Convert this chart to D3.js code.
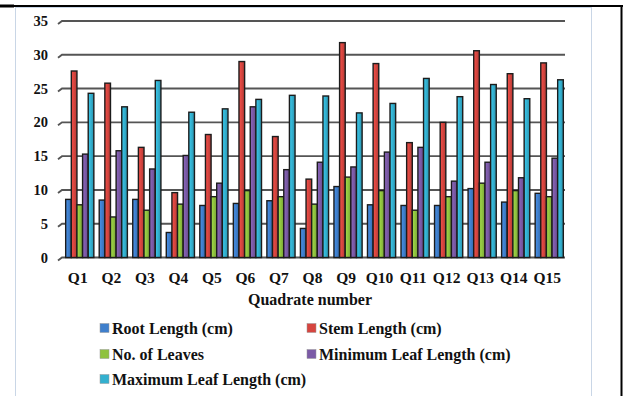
<!DOCTYPE html>
<html>
<head>
<meta charset="utf-8">
<script src="https://cdn.jsdelivr.net/npm/d3@7"></script>
<style>
  body { margin: 0; background: #fff; }
  text { font-family: "Liberation Serif", "Times New Roman", serif; font-weight: bold; fill: #111; }
</style>
</head>
<body>
<div id="chart"></div>
<script>
// values
const quadrates = ["Q1","Q2","Q3","Q4","Q5","Q6","Q7","Q8","Q9","Q10","Q11","Q12","Q13","Q14","Q15"];
const rootLength = [8.6, 8.5, 8.6, 3.7, 7.7, 8.0, 8.4, 4.3, 10.5, 7.8, 7.7, 7.7, 10.2, 8.2, 9.5];
const stemLength = [27.6, 25.8, 16.3, 9.6, 18.2, 29.0, 17.9, 11.6, 31.8, 28.7, 17.0, 20.0, 30.6, 27.2, 28.8];
const noOfLeaves = [7.8, 6.0, 7.0, 7.9, 9.0, 9.9, 9.0, 7.9, 11.9, 9.9, 7.0, 9.0, 11.0, 9.9, 9.0];
const minLeafLength = [15.3, 15.8, 13.1, 15.1, 11.0, 22.3, 13.0, 14.1, 13.4, 15.6, 16.3, 11.3, 14.1, 11.8, 14.7];
const maxLeafLength = [24.3, 22.3, 26.2, 21.5, 22.0, 23.4, 24.0, 23.9, 21.4, 22.8, 26.5, 23.8, 25.6, 23.5, 26.3];
const yTicks = [0, 5, 10, 15, 20, 25, 30, 35];

const series = [
  {name: "Root Length (cm)", values: rootLength, color: "#3f7fcc"},
  {name: "Stem Length (cm)", values: stemLength, color: "#d6453f"},
  {name: "No. of Leaves", values: noOfLeaves, color: "#8fc23f"},
  {name: "Minimum Leaf Length (cm)", values: minLeafLength, color: "#7b5aa6"},
  {name: "Maximum Leaf Length (cm)", values: maxLeafLength, color: "#33b0cf"}
];

const width = 625, height = 396;

const svg = d3.select("#chart").append("svg")
  .attr("width", width)
  .attr("height", height);

// frame
svg.append("rect")
  .attr("x", 15.5).attr("y", 7.5)
  .attr("width", 576).attr("height", 400)
  .attr("fill", "#fff").attr("stroke", "#c9d6e6");
svg.append("line").attr("x1", 0).attr("x2", 623).attr("y1", 6).attr("y2", 6)
  .attr("stroke", "#000").attr("stroke-width", 2);
svg.append("line").attr("x1", 0).attr("x2", 14).attr("y1", 6).attr("y2", 6)
  .attr("stroke", "#000").attr("stroke-width", 3);
svg.append("line").attr("x1", 621.5).attr("x2", 621.5).attr("y1", 5).attr("y2", height)
  .attr("stroke", "#000").attr("stroke-width", 2);

const x = d3.scaleBand().domain(quadrates).range([63, 566]).paddingInner(0.16).paddingOuter(0.08);
const xs = d3.scaleBand().domain(series.map(s => s.name)).range([0, x.bandwidth()]);
const y = d3.scaleLinear().domain([0, 35]).range([257.5, 21]);

// gridlines with slanted 3d start
svg.append("g").selectAll("path")
  .data(yTicks)
  .join("path")
    .attr("d", d => `M58,${y(d) + 3}L62,${y(d)}H565`)
    .attr("fill", "none")
    .attr("stroke", "#555")
    .attr("stroke-width", 1.9);

svg.append("g").selectAll("text")
  .data(yTicks)
  .join("text")
    .attr("x", 48)
    .attr("y", d => y(d))
    .attr("dy", "0.35em")
    .attr("text-anchor", "end")
    .style("font-size", "14.5px")
    .text(d => d);

// gradient per series
const defs = svg.append("defs");
series.forEach((s, i) => {
  const g = defs.append("linearGradient").attr("id", "g" + i)
    .attr("x1", "0").attr("x2", "1").attr("y1", "0").attr("y2", "0");
  g.append("stop").attr("offset", "0").attr("stop-color", d3.color(s.color).brighter(0.4));
  g.append("stop").attr("offset", "0.5").attr("stop-color", s.color);
  g.append("stop").attr("offset", "1").attr("stop-color", d3.color(s.color).darker(0.5));
});

const groups = svg.append("g").selectAll("g")
  .data(quadrates)
  .join("g")
    .attr("transform", d => `translate(${x(d)},0)`);

groups.selectAll("rect")
  .data((q, qi) => series.map((s, si) => ({s, si, v: s.values[qi]})))
  .join("rect")
    .attr("x", d => xs(d.s.name))
    .attr("y", d => y(d.v))
    .attr("width", xs.bandwidth())
    .attr("height", d => y(0) - y(d.v))
    .attr("fill", d => `url(#g${d.si})`)
    .attr("stroke", "#1c1c1c")
    .attr("stroke-width", 1.4);

// x labels
svg.append("g").selectAll("text")
  .data(quadrates)
  .join("text")
    .attr("x", d => x(d) + x.bandwidth() / 2 - 2)
    .attr("y", 278)
    .attr("dy", "0.35em")
    .attr("text-anchor", "middle")
    .style("font-size", "15.5px")
    .text(d => d);

svg.append("text")
  .attr("x", 310).attr("y", 299)
  .attr("dy", "0.35em")
  .attr("text-anchor", "middle")
  .style("font-size", "16px")
  .text("Quadrate number");

// legend
const legendPos = [[100, 328], [307, 328], [100, 354], [307, 354], [100, 379]];
const legend = svg.append("g").selectAll("g")
  .data(series)
  .join("g")
    .attr("transform", (d, i) => `translate(${legendPos[i][0]},${legendPos[i][1]})`);
legend.append("rect")
  .attr("x", 0).attr("y", -4.5).attr("width", 9).attr("height", 9)
  .attr("fill", d => d.color).attr("stroke", "#999").attr("stroke-width", 0.5);
legend.append("text")
  .attr("x", 12).attr("dy", "0.35em")
  .style("font-size", "16px")
  .text(d => d.name);
</script>
</body>
</html>
